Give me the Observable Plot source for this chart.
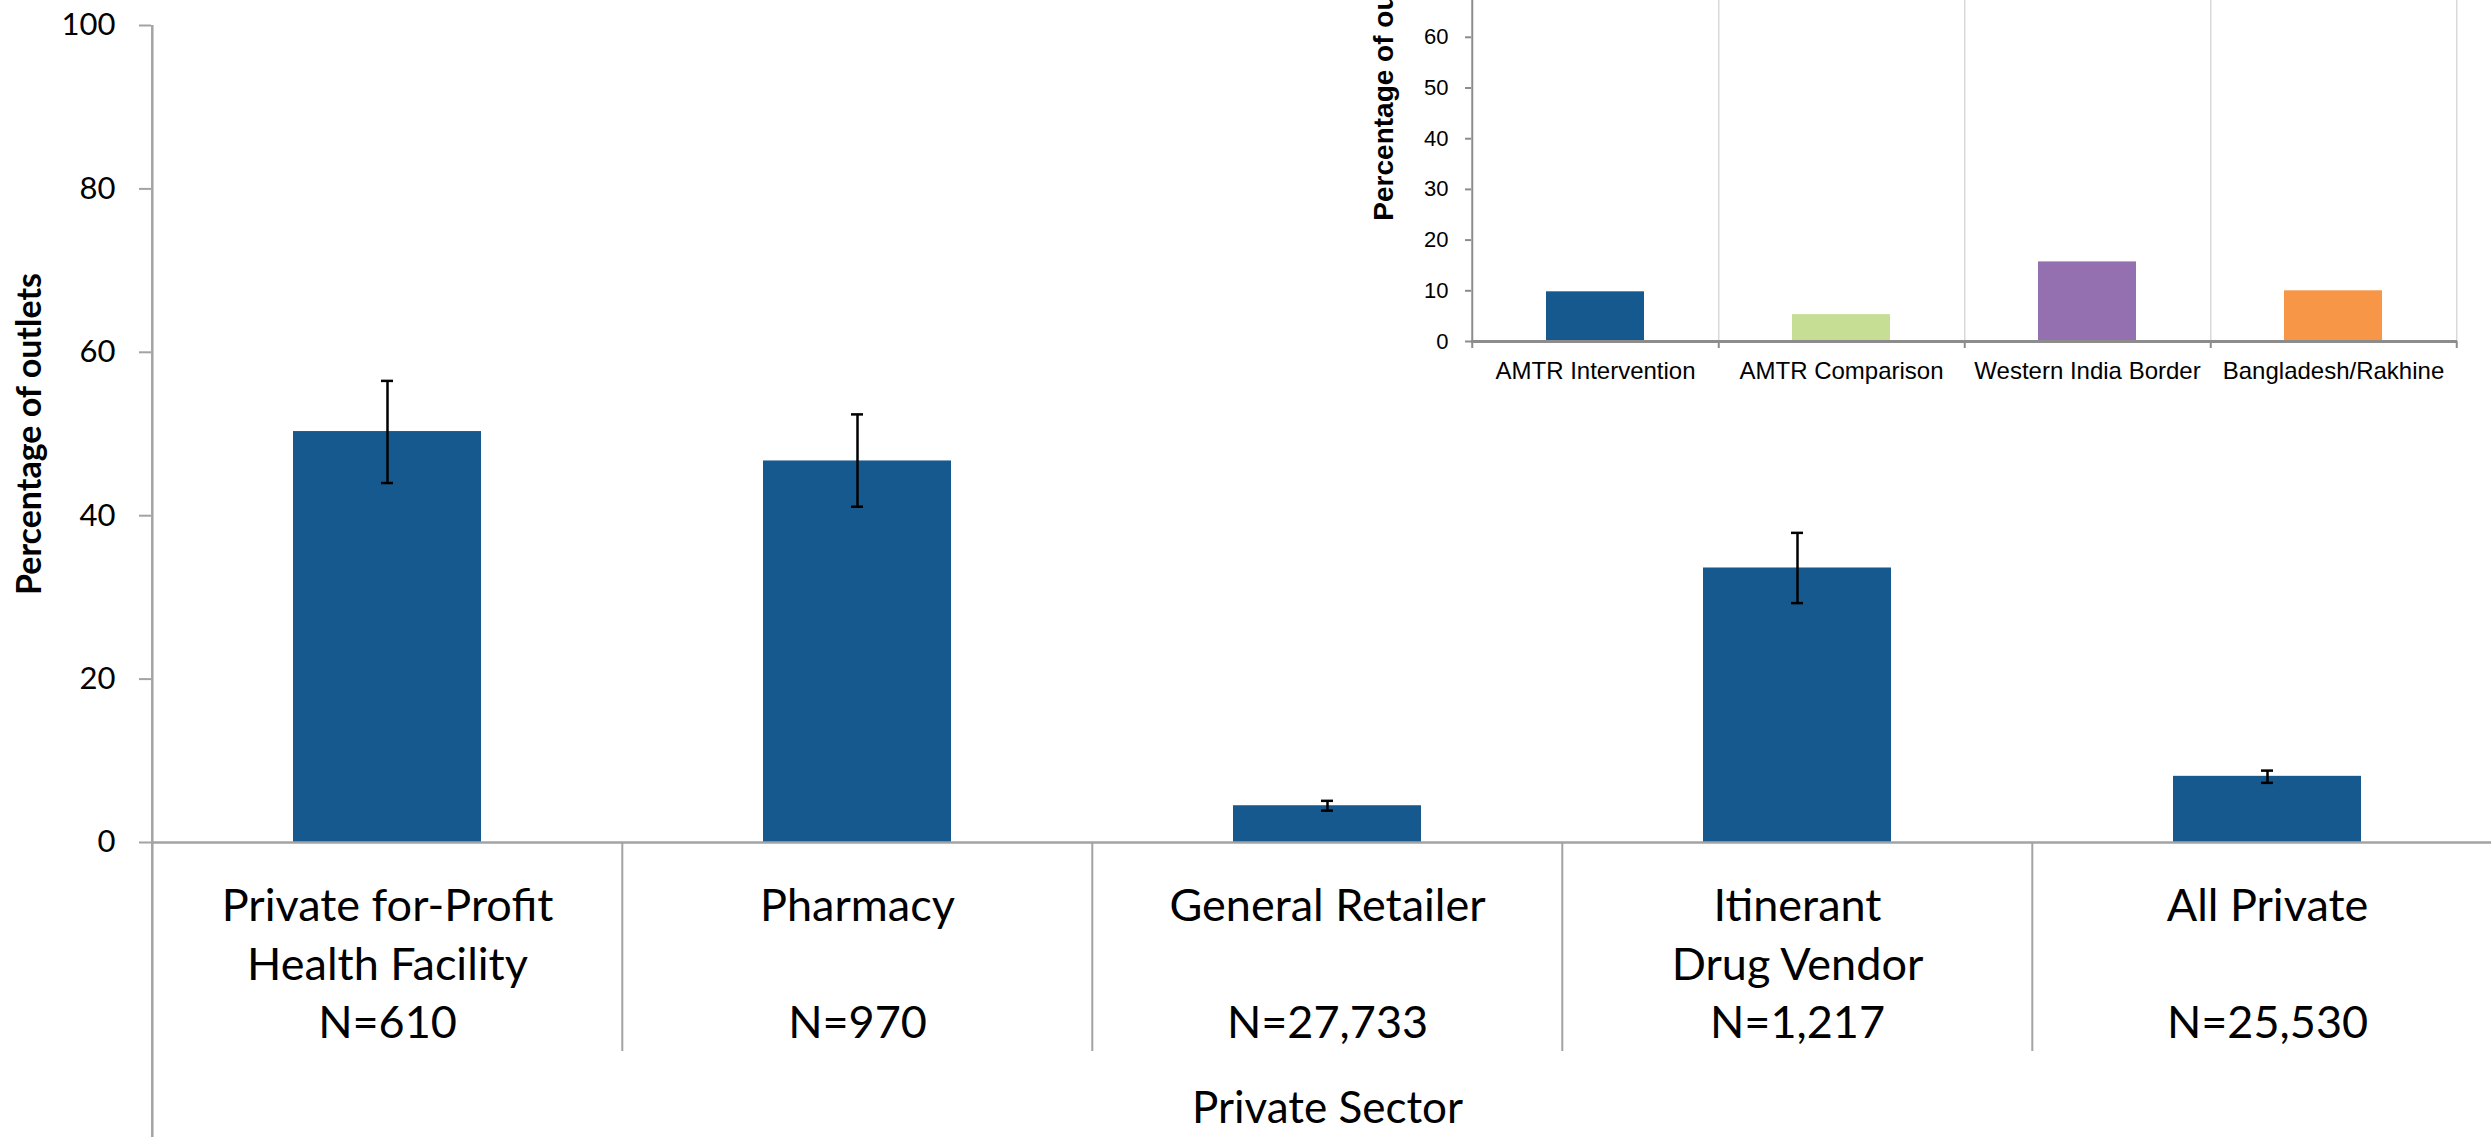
<!DOCTYPE html>
<html>
<head>
<meta charset="utf-8">
<script src="https://cdn.jsdelivr.net/npm/d3@7"></script>
<script src="https://cdn.jsdelivr.net/npm/@observablehq/plot@0.6"></script>
<style>
  html, body { margin: 0; padding: 0; background: #fff; }
  #page { position: relative; width: 2491px; height: 1137px; overflow: hidden; background: #fff; }
  #main { position: absolute; left: 0; top: 0; width: 2503px; }
  #inset { position: absolute; }
  #page svg { max-width: none !important; }
</style>
</head>
<body>
<div id="page"><div id="main"></div><div id="inset"></div></div>
<script>
// ---- Main chart data ----
const catLine1 = ["Private for-Profit", "Pharmacy", "General Retailer", "Itinerant", "All Private"];
const catLine2 = ["Health Facility", "", "", "Drug Vendor", ""];
const catN = ["N=610", "N=970", "N=27,733", "N=1,217", "N=25,530"];
const values = [50.3, 46.7, 4.5, 33.6, 8.1];
const lower = [44.0, 41.1, 3.9, 29.3, 7.3];
const upper = [56.5, 52.4, 5.1, 37.9, 8.8];
const mainTicks = [0, 20, 40, 60, 80, 100];
const mainYLabel = "Percentage of outlets";
const mainXLabel = "Private Sector";

// ---- Inset chart data ----
const insetCats = ["AMTR Intervention", "AMTR Comparison", "Western India Border", "Bangladesh/Rakhine"];
const insetValues = [9.8, 5.3, 15.7, 10.0];
const insetColors = ["#16598e", "#c5de94", "#9470b0", "#f79646"];
const insetTicks = [0, 10, 20, 30, 40, 50, 60, 70, 80, 90, 100];
const insetYLabel = "Percentage of outlets";

const blue = "#16598e";
const axisGray = "#a3a3a3";

const mainData = catLine1.map((c, i) => ({cat: c, value: values[i], lo: lower[i], hi: upper[i]}));
const insetData = insetCats.map((c, i) => ({cat: c, value: insetValues[i], color: insetColors[i]}));

// ---- Main plot ----
const mW = 2503, mH = 1137, mL = 151, mR = 0, mT = 25, mB = 295;
const mStep = (mW - mL - mR) / catLine1.length;
const mFrameH = mH - mT - mB;

const main = Plot.plot({
  width: mW, height: mH,
  marginLeft: mL, marginRight: mR, marginTop: mT, marginBottom: mB,
  style: {fontFamily: "Lato, 'Open Sans', sans-serif", background: "transparent", color: "#000", maxWidth: "none"},
  x: {type: "band", domain: catLine1, paddingInner: 0.6, paddingOuter: 0.3, axis: null},
  y: {domain: [0, 100], axis: null},
  marks: [
    // y axis line, extended down through the category area
    Plot.ruleX([catLine1[0]], {dx: -mStep / 2, insetBottom: -mB, stroke: axisGray, strokeWidth: 2.5}),
    // category separators below the baseline
    Plot.ruleX(catLine1.slice(1), {dx: -mStep / 2, insetTop: mFrameH, insetBottom: -209, stroke: axisGray, strokeWidth: 2}),
    Plot.barY(mainData, {x: "cat", y: "value", fill: blue}),
    Plot.ruleY([0], {stroke: axisGray, strokeWidth: 2.5}),
    Plot.ruleX(mainData, {x: "cat", y1: "lo", y2: "hi", stroke: "#000", strokeWidth: 2.5}),
    Plot.tickY(mainData, {x: "cat", y: "hi", insetLeft: 88, insetRight: 88, stroke: "#000", strokeWidth: 2.5}),
    Plot.tickY(mainData, {x: "cat", y: "lo", insetLeft: 88, insetRight: 88, stroke: "#000", strokeWidth: 2.5}),
    Plot.axisY(mainTicks, {tickSize: 12, tickPadding: 24, fontSize: 31, stroke: axisGray, strokeWidth: 2, fill: "#000", label: null}),
    Plot.axisX({
      tickSize: 0, tickPadding: 37, fontSize: 45, lineHeight: 1.3, fill: "#000", label: null,
      tickFormat: d => {
        const i = catLine1.indexOf(d);
        return [catLine1[i], catLine2[i] || "\u00a0", catN[i]].join("\n");
      }
    }),
    Plot.text([mainXLabel], {text: d => d, frameAnchor: "bottom", lineAnchor: "top", dy: 249, fontSize: 44, fill: "#000"}),
    Plot.text([mainYLabel], {text: d => d, frameAnchor: "left", textAnchor: "middle", dx: -121, rotate: -90, fontSize: 34, fontWeight: "bold", fill: "#000"})
  ]
});
document.getElementById("main").appendChild(main);

// ---- Inset plot ----
const iL = 140, iR = 30, iT = 10, iB = 60;
const iFrameLeftPage = 1470.7, iFrameRightPage = 2456.5;
const iZeroPage = 340.7, iPxPerUnit = 5.07;
const iFrameH = 100 * iPxPerUnit;
const iW = Math.round(iL + (iFrameRightPage - iFrameLeftPage) + iR);
const iH = Math.round(iT + iFrameH + iB);
const iStep = (iW - iL - iR) / insetCats.length;
const insetDiv = document.getElementById("inset");
insetDiv.style.left = (iFrameLeftPage - iL) + "px";
insetDiv.style.top = (iZeroPage - iFrameH - iT) + "px";
const iFrameMidPage = iZeroPage - iFrameH / 2;

const inset = Plot.plot({
  width: iW, height: iH,
  marginLeft: iL, marginRight: iR, marginTop: iT, marginBottom: iB,
  style: {fontFamily: "'Liberation Sans', Arial, sans-serif", background: "transparent", color: "#000", overflow: "visible", maxWidth: "none"},
  x: {type: "band", domain: insetCats, paddingInner: 0.6, paddingOuter: 0.3, axis: null},
  y: {domain: [0, 100], axis: null},
  marks: [
    // vertical light gridlines at category boundaries
    Plot.ruleX(insetCats, {dx: iStep / 2, stroke: "#d9d9d9", strokeWidth: 1.5}),
    // y axis line
    Plot.ruleX([insetCats[0]], {dx: -iStep / 2, insetBottom: -7, stroke: "#8c8c8c", strokeWidth: 2}),
    // small ticks below the x axis at category boundaries
    Plot.ruleX(insetCats, {dx: iStep / 2, insetTop: iFrameH, insetBottom: -7, stroke: "#8c8c8c", strokeWidth: 2}),
    Plot.barY(insetData, {x: "cat", y: "value", fill: "color"}),
    Plot.ruleY([0], {stroke: "#8c8c8c", strokeWidth: 3}),
    Plot.axisY(insetTicks, {tickSize: 6, tickPadding: 17, fontSize: 22, stroke: "#8c8c8c", strokeWidth: 2, fill: "#000", label: null}),
    Plot.axisX({tickSize: 0, tickPadding: 20, fontSize: 24, fill: "#000", label: null}),
    Plot.text([insetYLabel], {text: d => d, frameAnchor: "left", textAnchor: "middle", dx: -87, dy: (77.5 - iFrameMidPage), rotate: -90, fontSize: 28, fontWeight: "bold", fill: "#000"})
  ]
});
insetDiv.appendChild(inset);
</script>
</body>
</html>
